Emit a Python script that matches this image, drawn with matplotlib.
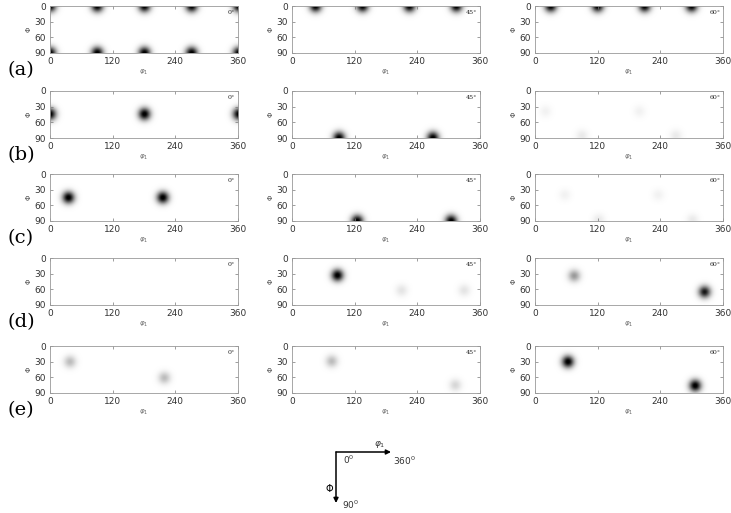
import matplotlib
matplotlib.use('Agg')
import numpy as np
import matplotlib.pyplot as plt

W, H = 731, 513

row_labels = ['(a)', '(b)', '(c)', '(d)', '(e)']
col_angles = ['0°', '45°', '60°']
x_ticks = [0, 120, 240, 360]
y_ticks = [0, 30, 60, 90]

# peaks per panel: (phi1, Phi, intensity), one list per column
peaks_a = [
    [(0, 0, 1), (90, 0, 1), (180, 0, 1), (270, 0, 1), (360, 0, 1),
     (0, 90, 1), (90, 90, 1), (180, 90, 1), (270, 90, 1), (360, 90, 1)],
    [(45, 0, 1), (135, 0, 1), (225, 0, 1), (315, 0, 1)],
    [(30, 0, 1), (120, 0, 1), (210, 0, 1), (300, 0, 1)],
]
peaks_b = [
    [(0, 45, 1), (180, 45, 1), (360, 45, 1)],
    [(90, 90, 1), (270, 90, 1)],
    [(20, 40, 0.05), (200, 40, 0.05), (90, 86, 0.08), (270, 86, 0.08)],
]
peaks_c = [
    [(35, 45, 1), (215, 45, 1)],
    [(125, 90, 1), (305, 90, 1)],
    [(57, 40, 0.05), (236, 40, 0.05), (122, 88, 0.08), (302, 88, 0.08)],
]
peaks_d = [
    [],
    [(87, 33, 1), (210, 62, 0.1), (330, 62, 0.1)],
    [(75, 34, 0.38), (325, 65, 0.88)],
]
peaks_e = [
    [(38, 30, 0.25), (218, 61, 0.25)],
    [(76, 29, 0.25), (313, 75, 0.15)],
    [(63, 30, 1), (307, 76, 1)],
]
all_peaks = [peaks_a, peaks_b, peaks_c, peaks_d, peaks_e]

# panel placement in pixels
col_left = [50, 292, 535]
panel_w = 188
row_top = [6, 91, 174, 258, 346]
panel_h = 47

phi1_grid = np.linspace(0, 360, 721)
Phi_grid = np.linspace(0, 90, 181)
X, Y = np.meshgrid(phi1_grid, Phi_grid)


def odf_map(peaks, sigma=8.0):
    z = np.zeros_like(X)
    for p1, P, w in peaks:
        z = np.maximum(z, w * np.exp(-((X - p1) ** 2 + (Y - P) ** 2) / (2 * sigma ** 2)))
    return z


fig = plt.figure(figsize=(W / 100, H / 100), dpi=100)
fig.patch.set_facecolor('white')

for r, row_peaks in enumerate(all_peaks):
    for c, peaks in enumerate(row_peaks):
        left = col_left[c] / W
        bottom = 1 - (row_top[r] + panel_h) / H
        ax = fig.add_axes([left, bottom, panel_w / W, panel_h / H])
        ax.imshow(odf_map(peaks), extent=[0, 360, 90, 0], cmap='gray_r',
                  vmin=0, vmax=0.95, aspect='auto', interpolation='bilinear')
        ax.set_xlim(0, 360)
        ax.set_ylim(90, 0)
        ax.set_xticks(x_ticks)
        ax.set_yticks(y_ticks)
        ax.tick_params(direction='in', length=2, width=0.5, color='#777777',
                       labelsize=6.5, labelcolor='#333333', pad=3,
                       top=True, right=True)
        for s in ax.spines.values():
            s.set_color('#999999')
            s.set_linewidth(0.6)
        ax.set_xlabel(r'$\varphi_1$', fontsize=5, color='#666666', labelpad=1.5)
        ax.set_ylabel('Φ', fontsize=5, color='#444444', labelpad=2)
        ax.text(0.985, 0.92, col_angles[c], transform=ax.transAxes, ha='right',
                va='top', fontsize=4.5, family='DejaVu Serif', color='#222222')
    fig.text(21 / W, 1 - (row_top[r] + panel_h + 17) / H, row_labels[r],
             ha='center', va='center', fontsize=14, family='DejaVu Serif')

# reference frame sketch
ox, oy = 336, 452
arrow = dict(arrowstyle='-|>', color='black', lw=1.1, mutation_scale=7,
             shrinkA=0, shrinkB=0)
fig.add_artist(matplotlib.patches.FancyArrowPatch(
    (ox / W, 1 - oy / H), (391 / W, 1 - oy / H), transform=fig.transFigure, **arrow))
fig.add_artist(matplotlib.patches.FancyArrowPatch(
    (ox / W, 1 - oy / H), (ox / W, 1 - 503 / H), transform=fig.transFigure, **arrow))
small = dict(fontsize=6.5, color='#333333', ha='left', va='center')
fig.text(374 / W, 1 - 445 / H, r'$\varphi_1$', **small)
fig.text(343 / W, 1 - 460 / H, r'0$^0$', **small)
fig.text(393 / W, 1 - 461 / H, r'360$^0$', **small)
fig.text(326 / W, 1 - 489 / H, 'Φ', fontsize=7, ha='left', va='center')
fig.text(342 / W, 1 - 505 / H, r'90$^0$', **small)

fig.savefig('out.png', dpi=100, facecolor='white')
